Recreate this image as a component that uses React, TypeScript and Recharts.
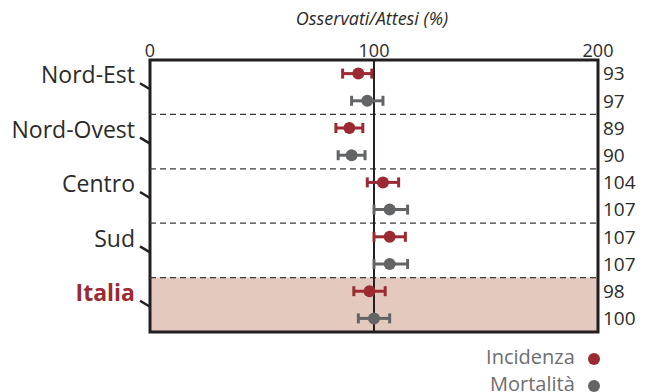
import React from 'react';
import {
  ScatterChart, Scatter, XAxis, YAxis, ErrorBar, ReferenceLine, ReferenceArea,
} from 'recharts';

const regions = ['Nord-Est', 'Nord-Ovest', 'Centro', 'Sud', 'Italia'];

const incidenza = [93, 89, 104, 107, 98];
const incidenzaLow = [86, 83, 97, 100, 91];
const incidenzaHigh = [99, 95, 111, 114, 105];

const mortalita = [97, 90, 107, 107, 100];
const mortalitaLow = [90, 84, 100, 100, 93];
const mortalitaHigh = [104, 96, 115, 115, 107];

const xTicks = [0, 100, 200];

const RED = '#9b2a33';
const GREY = '#636466';
const DARK = '#231f20';
const BAND = '#e4c9be';
const FONT = '"Open Sans", "Noto Sans", sans-serif';

// each region has two rows: incidenza then mortalità
const incData = regions.map((r, i) => ({
  region: r,
  x: incidenza[i],
  y: i * 2 + 0.5,
  err: [incidenza[i] - incidenzaLow[i], incidenzaHigh[i] - incidenza[i]],
}));
const morData = regions.map((r, i) => ({
  region: r,
  x: mortalita[i],
  y: i * 2 + 1.5,
  err: [mortalita[i] - mortalitaLow[i], mortalitaHigh[i] - mortalita[i]],
}));

const rowLabels = regions.flatMap((_, i) => [String(incidenza[i]), String(mortalita[i])]);
const rowTicks = rowLabels.map((_, i) => i + 0.5);
const rowData = rowTicks.map((y) => ({ x: 200, y }));
const regionTicks = regions.map((_, i) => i * 2 + 1);

const RegionTick = (props: any) => {
  const { x, y, payload } = props;
  const idx = Math.round((payload.value - 1) / 2);
  const isItalia = regions[idx] === 'Italia';
  return (
    <g>
      <text
        x={x - 15}
        y={y - 10}
        textAnchor="end"
        dominantBaseline="middle"
        fontSize={23}
        fontFamily={FONT}
        fontWeight={isItalia ? 700 : 400}
        fill={isItalia ? RED : '#2b2b2b'}
      >
        {regions[idx]}
      </text>
      <line x1={x - 10} y1={y - 4} x2={x} y2={y + 2} stroke={DARK} strokeWidth={2.5} />
    </g>
  );
};

const Dot = (color: string) => (props: any) => (
  <circle cx={props.cx} cy={props.cy} r={6} fill={color} />
);

export default function App() {
  return (
    <div style={{ position: 'absolute', left: 0, top: 0, width: 647, height: 392, fontFamily: FONT }}>
      <div
        style={{
          position: 'absolute', left: 222, width: 300, top: 5, textAlign: 'center',
          fontStyle: 'italic', fontSize: 18, color: '#2b2b2b', lineHeight: '26px',
        }}
      >
        Osservati/Attesi (%)
      </div>
      <ScatterChart width={647} height={392} margin={{ top: 30, right: 9, left: 0, bottom: 60 }}>
        <XAxis
          type="number"
          dataKey="x"
          orientation="top"
          domain={[0, 200]}
          ticks={xTicks}
          height={30}
          axisLine={false}
          tickLine={false}
          tickSize={0}
          tickMargin={3}
          tick={{ fontSize: 18, fill: '#2b2b2b', fontFamily: FONT }}
        />
        <YAxis
          yAxisId="left"
          type="number"
          dataKey="y"
          domain={[0, 10]}
          reversed
          ticks={regionTicks}
          width={150}
          axisLine={false}
          tickLine={false}
          tickSize={0}
          tickMargin={0}
          tick={<RegionTick />}
        />
        <YAxis
          yAxisId="right"
          orientation="right"
          type="number"
          dataKey="y"
          domain={[0, 10]}
          reversed
          ticks={rowTicks}
          width={40}
          axisLine={false}
          tickLine={false}
          tickSize={0}
          tickMargin={5}
          tickFormatter={(v: number) => rowLabels[Math.floor(v)]}
          tick={{ fontSize: 19, fill: '#2b2b2b', fontFamily: FONT }}
        />
        <ReferenceArea yAxisId="left" x1={0} x2={200} y1={8} y2={10} fill={BAND} fillOpacity={1} stroke="none" />
        {[2, 4, 6, 8].map((v) => (
          <ReferenceLine key={v} yAxisId="left" y={v} stroke="#3a3a3a" strokeWidth={1.2} strokeDasharray="6 4" />
        ))}
        <ReferenceLine yAxisId="left" x={100} stroke={DARK} strokeWidth={2} />
        <Scatter yAxisId="right" data={rowData} shape={() => <g />} isAnimationActive={false} />
        <Scatter yAxisId="left" data={incData} fill={RED} shape={Dot(RED)} isAnimationActive={false}>
          <ErrorBar dataKey="err" direction="x" width={5} stroke={RED} strokeWidth={3} />
        </Scatter>
        <Scatter yAxisId="left" data={morData} fill={GREY} shape={Dot(GREY)} isAnimationActive={false}>
          <ErrorBar dataKey="err" direction="x" width={5} stroke={GREY} strokeWidth={3} />
        </Scatter>
        <ReferenceArea yAxisId="left" x1={0} x2={200} y1={0} y2={10} fill="none" stroke={DARK} strokeWidth={3} />
      </ScatterChart>
      <div style={{ position: 'absolute', right: 47, top: 343, textAlign: 'right', fontSize: 20, color: '#6d6e70', lineHeight: '27px' }}>
        <div>
          Incidenza <span style={{ display: 'inline-block', width: 12, height: 12, borderRadius: 6, background: RED, marginLeft: 8, verticalAlign: 'middle' }} />
        </div>
        <div>
          Mortalità <span style={{ display: 'inline-block', width: 12, height: 12, borderRadius: 6, background: GREY, marginLeft: 8, verticalAlign: 'middle' }} />
        </div>
      </div>
    </div>
  );
}
